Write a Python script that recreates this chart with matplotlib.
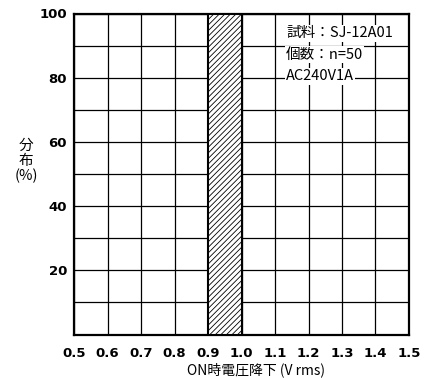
import matplotlib
matplotlib.use("Agg")
import matplotlib.pyplot as plt
import numpy as np

plt.rcParams['font.family'] = ['DejaVu Sans', 'Noto Sans CJK JP']
plt.rcParams['hatch.linewidth'] = 0.6

# data
bin_left = [0.9]
bin_width = 0.1
bin_values = [100]
x_ticks = [0.5, 0.6, 0.7, 0.8, 0.9, 1.0, 1.1, 1.2, 1.3, 1.4, 1.5]
x_tick_labels = ["0.5", "0.6", "0.7", "0.8", "0.9", "1.0", "1.1", "1.2", "1.3", "1.4", "1.5"]
y_ticks = [20, 40, 60, 80, 100]
info_lines = ["試料：SJ-12A01", "個数：n=50", "AC240V1A"]
x_label = "ON時電圧降下 (V rms)"
y_label = "分\n布\n(%)"

fig = plt.figure(figsize=(4.24, 3.78), dpi=100)
ax = fig.add_axes([74/424, 1-334.5/378, (409-74)/424, (334.5-13.5)/378])

ax.set_xlim(0.5, 1.5)
ax.set_ylim(0, 100)
ax.grid(True, color='black', linewidth=0.9)
ax.set_axisbelow(True)
ax.tick_params(length=0, pad=9)
ax.set_xticks(x_ticks)
ax.set_xticklabels(x_tick_labels, fontsize=9.5, fontweight='bold')
ylocs = np.arange(0, 101, 10)
ax.set_yticks(ylocs)
ax.set_yticklabels([str(v) if v in y_ticks else "" for v in ylocs], fontsize=9.5, fontweight='bold')
ax.tick_params(axis='y', pad=5)
for s in ax.spines.values():
    s.set_linewidth(1.6)
    s.set_color('black')

ax.bar(bin_left, bin_values, width=bin_width, align='edge', facecolor='white',
       edgecolor='black', hatch='//////', linewidth=1.5, zorder=3)

ty = [93.8, 87.2, 80.4]
for line, y in zip(info_lines, ty):
    ax.text(1.133, y, line, fontsize=10.5,
            family=['Noto Sans CJK JP', 'DejaVu Sans'], va='center', ha='left', zorder=5,
            bbox=dict(facecolor='white', edgecolor='none', pad=0.8))

fig.text(26/424, 1-161/378, y_label, ha='center', va='center', fontsize=10.5,
         family=['Noto Sans CJK JP', 'DejaVu Sans'], linespacing=1.05)
fig.text(256/424, 1/378, x_label, ha='center', va='bottom', fontsize=10,
         family=['Noto Sans CJK JP', 'DejaVu Sans'])

fig.savefig("out.png", dpi=100)
